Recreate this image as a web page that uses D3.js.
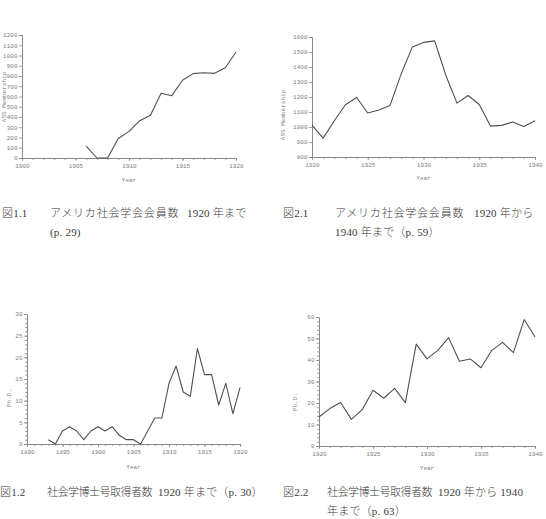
<!DOCTYPE html>
<html><head><meta charset="utf-8">
<script src="https://cdn.jsdelivr.net/npm/d3@7"></script>
<style>
html,body{margin:0;padding:0;background:#fff;}
svg{display:block;}
</style></head>
<body>
<svg id="c" width="546" height="519"></svg>
<script>
// ---- data ----
const years1 = [1906,1907,1908,1909,1910,1911,1912,1913,1914,1915,1916,1917,1918,1919,1920];
const members1 = [115,0,0,190,260,364,416,631,608,758,823,832,826,881,1034];

const years2 = [1920,1921,1922,1923,1924,1925,1926,1927,1928,1929,1930,1931,1932,1933,1934,1935,1936,1937,1938,1939,1940];
const members2 = [1013,926,1042,1148,1197,1093,1113,1144,1354,1534,1564,1574,1345,1159,1210,1150,1006,1011,1033,1004,1042];

const years3 = [1893,1894,1895,1896,1897,1898,1899,1900,1901,1902,1903,1904,1905,1906,1907,1908,1909,1910,1911,1912,1913,1914,1915,1916,1917,1918,1919,1920];
const phd3 = [1,0,3,4,3,1,3,4,3,4,2,1,1,0,3,6,6,14,18,12,11,22,16,16,9,14,7,13];

const years4 = [1920,1921,1922,1923,1924,1925,1926,1927,1928,1929,1930,1931,1932,1933,1934,1935,1936,1937,1938,1939,1940];
const phd4 = [13.5,17.4,20.2,12.4,16.9,25.9,22.2,26.8,20.2,47.4,40.5,44.5,50.4,39.4,40.5,36.4,44.5,48.2,43.4,58.8,50.7];

const xTicks1 = [1900,1905,1910,1915,1920];
const xTicks2 = [1920,1925,1930,1935,1940];
const xTicks3 = [1890,1895,1900,1905,1910,1915,1920];
const yTicks1 = [0,100,200,300,400,500,600,700,800,900,1000,1100,1200];
const yTicks2 = [800,900,1000,1100,1200,1300,1400,1500,1600];
const yTicks3 = [0,5,10,15,20,25,30];
const yTicks4 = [0,10,20,30,40,50,60];

const yTitleMembers = "ASS Membership";
const yTitlePhd = "Ph.D.";
const xTitle = "Year";

const captions = [
  {parts:[["図1.1",2,0],["アメリカ社会学会会員数",50,1],["1920 年まで",187,0]], y:217},
  {parts:[["(p. 29)",50,0]], y:236},
  {parts:[["図2.1",283,0],["アメリカ社会学会会員数",335,1],["1920 年から",474,0]], y:217},
  {parts:[["1940 年まで（p. 59）",335,0]], y:236},
  {parts:[["図1.2",0,0],["社会学博士号取得者数",47,2],["1920 年まで（p. 30）",158,0]], y:496},
  {parts:[["図2.2",283,0],["社会学博士号取得者数",327,2],["1920 年から 1940",438,0]], y:496},
  {parts:[["年まで（p. 63）",327,0]], y:515}
];

// ---- drawing ----
const svg = d3.select("#c");
const axisCol = "#8a8a8a", textCol = "#808080", lineCol = "#505050";
const monoFont = "'Liberation Mono','DejaVu Sans Mono',monospace";

function drawChart(o){
  const x = d3.scaleLinear().domain(o.xDomain).range(o.xRange);
  const y = d3.scaleLinear().domain(o.yDomain).range(o.yRange);
  const g = svg.append("g");
  const xAx = d3.axisBottom(x).tickValues(d3.range(o.xDomain[0], o.xDomain[1]+1)).tickSize(2).tickFormat("");
  g.append("g").attr("transform",`translate(0,${o.yRange[0]})`).call(xAx);
  const xAxMaj = d3.axisBottom(x).tickValues(o.xTicks).tickSize(3).tickPadding(3).tickFormat(d3.format("d"));
  const gx2 = g.append("g").attr("transform",`translate(0,${o.yRange[0]})`).call(xAxMaj);
  gx2.select(".domain").remove();
  if(o.yMinor){
    const yAxMin = d3.axisLeft(y).tickValues(o.yMinor).tickSize(2).tickFormat("");
    const gm = g.append("g").attr("transform",`translate(${o.xRange[0]},0)`).call(yAxMin);
    gm.select(".domain").remove();
  }
  const yAx = d3.axisLeft(y).tickValues(o.yTicks).tickSize(3).tickPadding(1.5).tickFormat(d3.format("d"));
  g.append("g").attr("transform",`translate(${o.xRange[0]},0)`).call(yAx);
  g.selectAll(".domain").attr("stroke",axisCol).attr("stroke-width",1);
  g.selectAll(".tick line").attr("stroke",axisCol).attr("stroke-width",0.8);
  g.selectAll(".tick text").attr("fill",textCol).style("font-family",monoFont).style("font-size","6px");
  const line = d3.line().x((d,i)=>x(o.xs[i])).y(d=>y(d));
  g.append("path").datum(o.ys).attr("d",line).attr("fill","none")
    .attr("stroke",lineCol).attr("stroke-width",1.1).attr("stroke-linejoin","round");
  g.append("text").text(xTitle).attr("x",(o.xRange[0]+o.xRange[1])/2).attr("y",o.xTitleY)
    .attr("text-anchor","middle").attr("fill",textCol).style("font-family",monoFont).style("font-size","6px");
  g.append("text").text(o.yTitle)
    .attr("transform",`translate(${o.yTitlePos[0]},${o.yTitlePos[1]}) rotate(-90)`)
    .attr("text-anchor","middle").attr("fill",textCol).style("font-family",monoFont).style("font-size","6px");
}

drawChart({xs:years1, ys:members1, xDomain:[1900,1920], xRange:[22,236], yDomain:[0,1200], yRange:[158,35],
  xTicks:xTicks1, yTicks:yTicks1, xTitleY:182, yTitle:yTitleMembers, yTitlePos:[5.5,97]});
drawChart({xs:years2, ys:members2, xDomain:[1920,1940], xRange:[312,535], yDomain:[800,1600], yRange:[157,37],
  xTicks:xTicks2, yTicks:yTicks2, xTitleY:180, yTitle:yTitleMembers, yTitlePos:[285,115]});
drawChart({xs:years3, ys:phd3, xDomain:[1890,1920], xRange:[27,240], yDomain:[0,30], yRange:[444,314],
  xTicks:xTicks3, yTicks:yTicks3, yMinor:d3.range(0,31,1), xTitleY:469, yTitle:yTitlePhd, yTitlePos:[11,398]});
drawChart({xs:years4, ys:phd4, xDomain:[1920,1940], xRange:[319,535], yDomain:[0,60], yRange:[446,317],
  xTicks:xTicks2, yTicks:yTicks4, yMinor:d3.range(0,61,2), xTitleY:470, yTitle:yTitlePhd, yTitlePos:[297,402]});

// captions
const capFont = "'Liberation Serif','Noto Sans CJK JP',serif";
const spacing = ["0.2px","0.8px","-0.5px"];
captions.forEach(c=>{
  c.parts.forEach(p=>{
    svg.append("text").text(p[0]).attr("x",p[1]).attr("y",c.y)
      .attr("fill","#3a3a3a").style("font-family",capFont).style("font-size","11px")
      .style("font-weight","300")
      .style("letter-spacing", spacing[p[2]]);
  });
});
</script>
</body></html>
